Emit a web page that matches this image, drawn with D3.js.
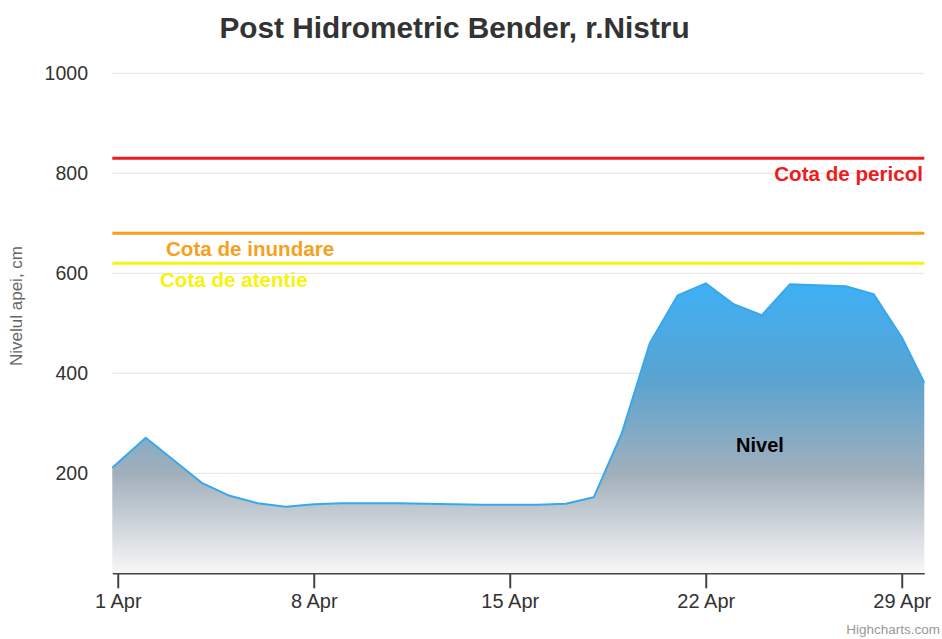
<!DOCTYPE html>
<html>
<head>
<meta charset="utf-8">
<script src="https://cdn.jsdelivr.net/npm/d3@7"></script>
<style>
  body { margin: 0; background: #fff; }
  svg { display: block; font-family: "Liberation Sans", Arial, sans-serif; }
</style>
</head>
<body>
<svg width="942" height="639"></svg>
<script>
// water level readings (cm)
const DATES = [
  '2019-03-31T19:20', '2019-04-02', '2019-04-04', '2019-04-05', '2019-04-06',
  '2019-04-07', '2019-04-08', '2019-04-09', '2019-04-10', '2019-04-11',
  '2019-04-12', '2019-04-13', '2019-04-14', '2019-04-15', '2019-04-16',
  '2019-04-17', '2019-04-18', '2019-04-19', '2019-04-20', '2019-04-21',
  '2019-04-22', '2019-04-23', '2019-04-24', '2019-04-25', '2019-04-26',
  '2019-04-27', '2019-04-28', '2019-04-29', '2019-04-29T19:20'
];
const LEVELS = [
  211, 271, 181, 155, 140,
  133, 138, 140, 140, 140,
  139, 138, 137, 137, 137,
  139, 152, 280, 460, 556,
  580, 538, 516, 578, 576,
  574, 558, 472, 381
];

// warning levels
const LIMIT_NAMES = ['Cota de pericol', 'Cota de inundare', 'Cota de atentie'];
const LIMIT_VALUES = [830, 680, 620];
const LIMIT_COLORS = ['#ee1c1c', '#f6a11e', '#f8f20c'];

const Y_TICKS = [200, 400, 600, 800, 1000];
const X_TICKS = ['2019-04-01', '2019-04-08', '2019-04-15', '2019-04-22', '2019-04-29'];

const parse = d3.isoParse;
const data = DATES.map((d, i) => ({ date: parse(d), value: LEVELS[i] }));

const plotLeft = 112.3, plotRight = 924.3, plotTop = 73.3, plotBottom = 573.3;

const svg = d3.select('svg');

const xScale = d3.scaleTime()
  .domain(d3.extent(data, d => d.date))
  .range([plotLeft, plotRight]);
const yScale = d3.scaleLinear().domain([0, 1000]).range([plotBottom, plotTop]);

// title
svg.append('text')
  .attr('x', 454.5).attr('y', 38)
  .attr('text-anchor', 'middle')
  .style('font-size', '29.8px').style('font-weight', 'bold').style('fill', '#333')
  .text('Post Hidrometric Bender, r.Nistru');

// grid lines
svg.append('g')
  .selectAll('line')
  .data(Y_TICKS)
  .enter()
  .append('line')
  .attr('x1', plotLeft).attr('x2', plotRight)
  .attr('y1', d => yScale(d)).attr('y2', d => yScale(d))
  .style('stroke', '#e3e3e3').style('stroke-width', 1);

// y labels
svg.append('g')
  .selectAll('text')
  .data(Y_TICKS)
  .enter()
  .append('text')
  .attr('x', 88)
  .attr('y', d => yScale(d))
  .attr('dy', '0.35em')
  .attr('text-anchor', 'end')
  .style('font-size', '19.5px').style('fill', '#333')
  .text(d => d);

svg.append('text')
  .attr('transform', 'translate(22,306) rotate(-90)')
  .attr('text-anchor', 'middle')
  .style('font-size', '17px').style('fill', '#666')
  .text('Nivelul apei, cm');

// area with gradient
const grad = svg.append('defs').append('linearGradient')
  .attr('id', 'levelFill')
  .attr('gradientUnits', 'userSpaceOnUse')
  .attr('x1', 0).attr('x2', 0)
  .attr('y1', yScale(d3.max(LEVELS))).attr('y2', plotBottom);
grad.append('stop').attr('offset', 0).attr('stop-color', '#2ea9f5');
grad.append('stop').attr('offset', 0.33).attr('stop-color', '#4c9bcd');
grad.append('stop').attr('offset', 0.66).attr('stop-color', '#9aa9b6');
grad.append('stop').attr('offset', 1).attr('stop-color', '#f7f7f7');

const area = d3.area()
  .x(d => xScale(d.date))
  .y0(plotBottom)
  .y1(d => yScale(d.value));

svg.append('path')
  .datum(data)
  .attr('d', area)
  .style('fill', 'url(#levelFill)')
  .style('fill-opacity', 0.92);

const line = d3.line()
  .x(d => xScale(d.date))
  .y(d => yScale(d.value));

svg.append('path')
  .datum(data)
  .attr('d', line)
  .style('fill', 'none')
  .style('stroke', '#38a8ec')
  .style('stroke-width', 2)
  .style('stroke-linejoin', 'round');

svg.append('text')
  .attr('x', 760).attr('y', 452)
  .attr('text-anchor', 'middle')
  .style('font-size', '20px').style('font-weight', 'bold').style('fill', '#000')
  .text('Nivel');

// warning lines + labels
svg.append('g')
  .selectAll('line')
  .data(LIMIT_VALUES)
  .enter()
  .append('line')
  .attr('x1', plotLeft).attr('x2', plotRight)
  .attr('y1', d => yScale(d)).attr('y2', d => yScale(d))
  .style('stroke', (d, i) => LIMIT_COLORS[i])
  .style('stroke-width', 3);

const labelPos = [
  { x: 923, y: 181, anchor: 'end' },
  { x: 166, y: 256, anchor: 'start' },
  { x: 160, y: 287, anchor: 'start' }
];
svg.append('g')
  .selectAll('text')
  .data(LIMIT_NAMES)
  .enter()
  .append('text')
  .attr('x', (d, i) => labelPos[i].x)
  .attr('y', (d, i) => labelPos[i].y)
  .attr('text-anchor', (d, i) => labelPos[i].anchor)
  .style('font-size', '20.6px').style('font-weight', 'bold')
  .style('fill', (d, i) => LIMIT_COLORS[i])
  .text(d => d);

// x axis
const xAxis = d3.axisBottom(xScale)
  .tickValues(X_TICKS.map(parse))
  .tickSize(15)
  .tickSizeOuter(0)
  .tickPadding(6)
  .tickFormat(d3.timeFormat('%-d %b'));

const gx = svg.append('g')
  .attr('transform', `translate(0,${plotBottom})`)
  .call(xAxis);
gx.select('.domain').style('stroke', '#444').style('stroke-width', 1.5);
gx.selectAll('.tick line').style('stroke', '#444').style('stroke-width', 2);
gx.selectAll('.tick text')
  .style('font-size', '20px').style('fill', '#333')
  .style('font-family', '"Liberation Sans", Arial, sans-serif');

// credits
svg.append('text')
  .attr('x', 940).attr('y', 634)
  .attr('text-anchor', 'end')
  .style('font-size', '13.5px').style('fill', '#999')
  .text('Highcharts.com');
</script>
</body>
</html>
